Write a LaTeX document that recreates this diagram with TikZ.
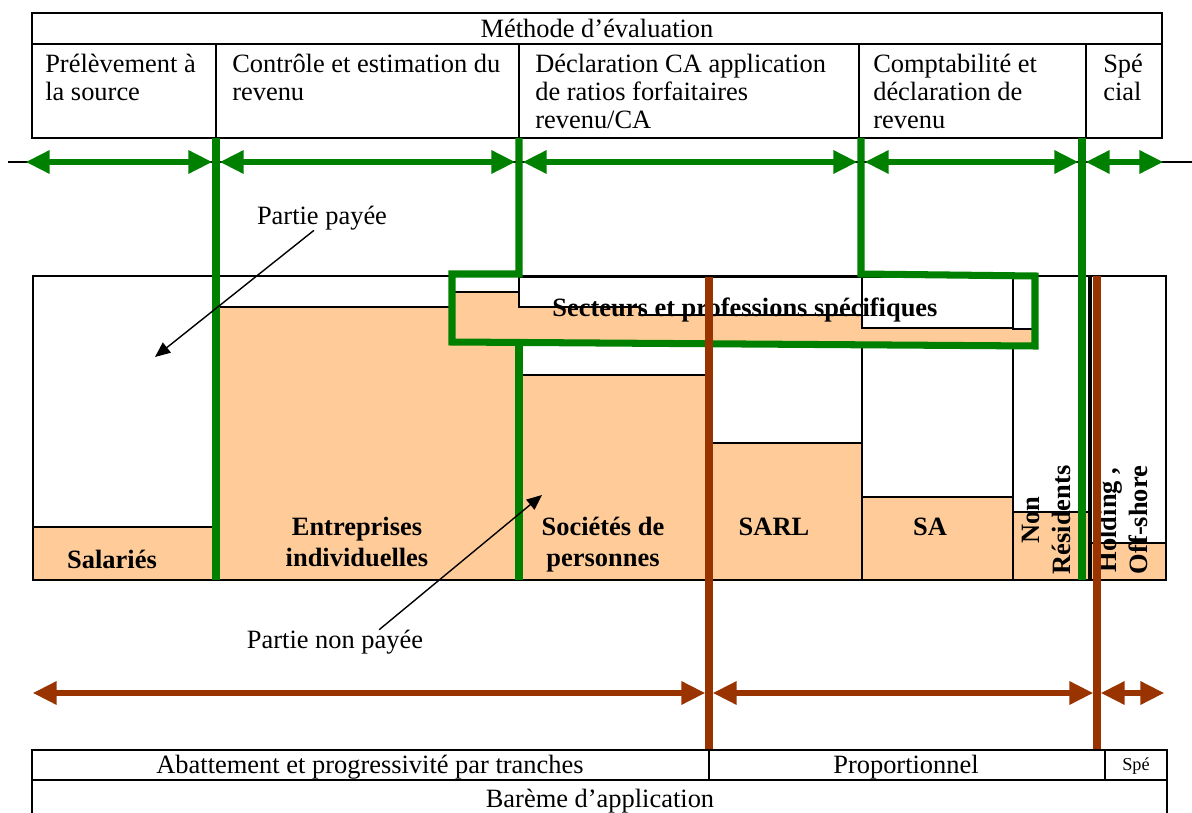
\documentclass[tikz,border=0pt]{standalone}
\usepackage{xcolor}
\usepackage{fontspec}
\setmainfont{Liberation Serif}
\usepackage{tikz}
\usetikzlibrary{arrows.meta,positioning,calc}
\definecolor{Vert}{HTML}{008000}
\definecolor{Brique}{HTML}{993300}
\definecolor{Peche}{HTML}{FFCC99}

\begin{document}
\begin{tikzpicture}[x=0.025cm,y=-0.025cm,
    cellline/.style={draw=black,line width=1.5pt},
    colbox/.style={draw=black,line width=0.8pt,fill=white},
    colpart/.style={draw=black,line width=0.8pt,fill=Peche},
    txt/.style={font=\fontsize{18.8}{20}\selectfont,inner sep=0pt},
    head/.style={txt,align=left,anchor=north west},
    lab/.style={font=\fontsize{18.8}{22}\selectfont\bfseries,inner sep=0pt,align=center},
    vsep/.style={line width=5pt,draw=Vert},
    bsep/.style={line width=5pt,draw=Brique},
    dblarrow/.style={<->,>={Triangle[length=0.6cm,width=0.55cm]},line width=4.5pt,shorten <=0.09cm,shorten >=0.09cm},
    ptr/.style={-{Triangle[length=0.38cm,width=0.32cm]},line width=1pt}
]
\useasboundingbox (0,0) rectangle (1192,813);

% Méthode d'évaluation
\draw[cellline] (32,13) rectangle (1162,138);
\draw[cellline] (32,44) -- (1162,44);
\foreach \x in {216,519,859,1086}
    \draw[cellline] (\x,44) -- (\x,138);
\node[txt,anchor=base] (methode) at (597,38) {Méthode d’évaluation};
\node[head] (prelev) at (45,54) {Prélèvement à\\la source};
\node[head] (controle) at (232,54) {Contrôle et estimation du\\revenu};
\node[head] (declar) at (535,54) {Déclaration CA application\\de ratios forfaitaires\\revenu/CA};
\node[head] (compta) at (873,54) {Comptabilité et\\déclaration de\\revenu};
\node[head] (special) at (1103,54) {Spé\\cial};

% colonnes
\draw[colbox] (33,276) rectangle (1166,580);
\draw[colpart] (33,527) rectangle (216,580);
\draw[colpart] (216,307) rectangle (519,580);
\draw[colbox] (519,343) rectangle (709,580);
\draw[colpart] (519,375) rectangle (709,580);
\draw[colbox] (709,343) rectangle (862,580);
\draw[colpart] (709,443) rectangle (862,580);
\draw[colbox] (862,343) rectangle (1013,580);
\draw[colpart] (862,497) rectangle (1013,580);
\draw[colbox] (1013,276) rectangle (1089,580);
\draw[colpart] (1013,512) rectangle (1089,580);
\draw[colbox] (1091,276) rectangle (1166,580);
\draw[colpart] (1091,543) rectangle (1166,580);

% secteurs et professions spécifiques
\fill[Peche] (452,292) rectangle (1035,343);
\draw[line width=0.8pt] (452,292) -- (519,292);
\draw[colbox] (519,277) -- (519,307) -- (640,307) -- (640,315) -- (862,315) -- (862,277) -- cycle;
\draw[colbox] (862,277) rectangle (1013,328);
\draw[colbox] (1013,277) rectangle (1035,329);
\node[lab,anchor=base] (secteurs) at (745,317) {Secteurs et professions spécifiques};

\node[lab,anchor=base] (salaries) at (112,568) {Salariés};
\node[lab,anchor=north] (entrep) at (357,517) {Entreprises\\individuelles};
\node[lab,anchor=north] (societes) at (603,517) {Sociétés de\\personnes};
\node[lab,anchor=base] (sarl) at (774,535) {SARL};
\node[lab,anchor=base] (sa) at (930,535) {SA};
\node[lab,rotate=90] (nonres) at (1046,520) {Non\\Résidents};
\node[lab,rotate=90] (holding) at (1123,520) {Holding ,\\Off-shore};

% limites vertes
\draw[line width=1pt] (8,162) -- (1192,162);
\draw[vsep] (216,138) -- (216,580);
\draw[vsep,line join=miter] (519,138) -- (519,274) -- (452,274) -- (452,342) -- (1035,346) -- (1035,276) -- (861,274) -- (861,138);
\draw[vsep] (519,343) -- (519,580);
\draw[vsep] (1082,138) -- (1082,580);
\coordinate (g0) at (22,162);
\coordinate (g1) at (216,162);
\coordinate (g2) at (519,162);
\coordinate (g3) at (861,162);
\coordinate (g4) at (1082,162);
\coordinate (g5) at (1167,162);
\foreach \a/\b in {g0/g1,g1/g2,g2/g3,g3/g4,g4/g5}
    \draw[dblarrow,draw=Vert] (\a) -- (\b);

% limites brunes
\draw[bsep] (709,277) -- (709,750);
\draw[bsep] (1097,276) -- (1097,750);
\coordinate (b0) at (29,693);
\coordinate (b1) at (709,693);
\coordinate (b2) at (1097,693);
\coordinate (b3) at (1168,693);
\foreach \a/\b in {b0/b1,b1/b2,b2/b3}
    \draw[dblarrow,draw=Brique] (\a) -- (\b);

% parties payée / non payée
\node[txt] (paye) at (322,218) {Partie payée};
\coordinate (payeTip) at (155,357);
\draw[ptr] ([xshift=-0.2cm]paye.south) -- (payeTip);
\node[txt] (nonpaye) at (335,642) {Partie non payée};
\coordinate (nonpayeTip) at (542,495);
\draw[ptr] ($(nonpaye.north)!0.5!(nonpaye.north east)$) -- (nonpayeTip);

% Barème d'application
\draw[cellline] (32,820) -- (32,750) -- (1167,750) -- (1167,820);
\draw[cellline] (32,780) -- (1167,780);
\foreach \x in {709,1105}
    \draw[cellline] (\x,750) -- (\x,780);
\node[txt,anchor=base] (abatt) at (370,773) {Abattement et progressivité par tranches};
\node[txt,anchor=base] (propor) at (906,773) {Proportionnel};
\node[font=\fontsize{13}{15}\selectfont,inner sep=0pt,anchor=base] (spe) at (1136,770) {Spé};
\node[txt,anchor=base] (bareme) at (600,807) {Barème d’application};
\end{tikzpicture}
\end{document}
